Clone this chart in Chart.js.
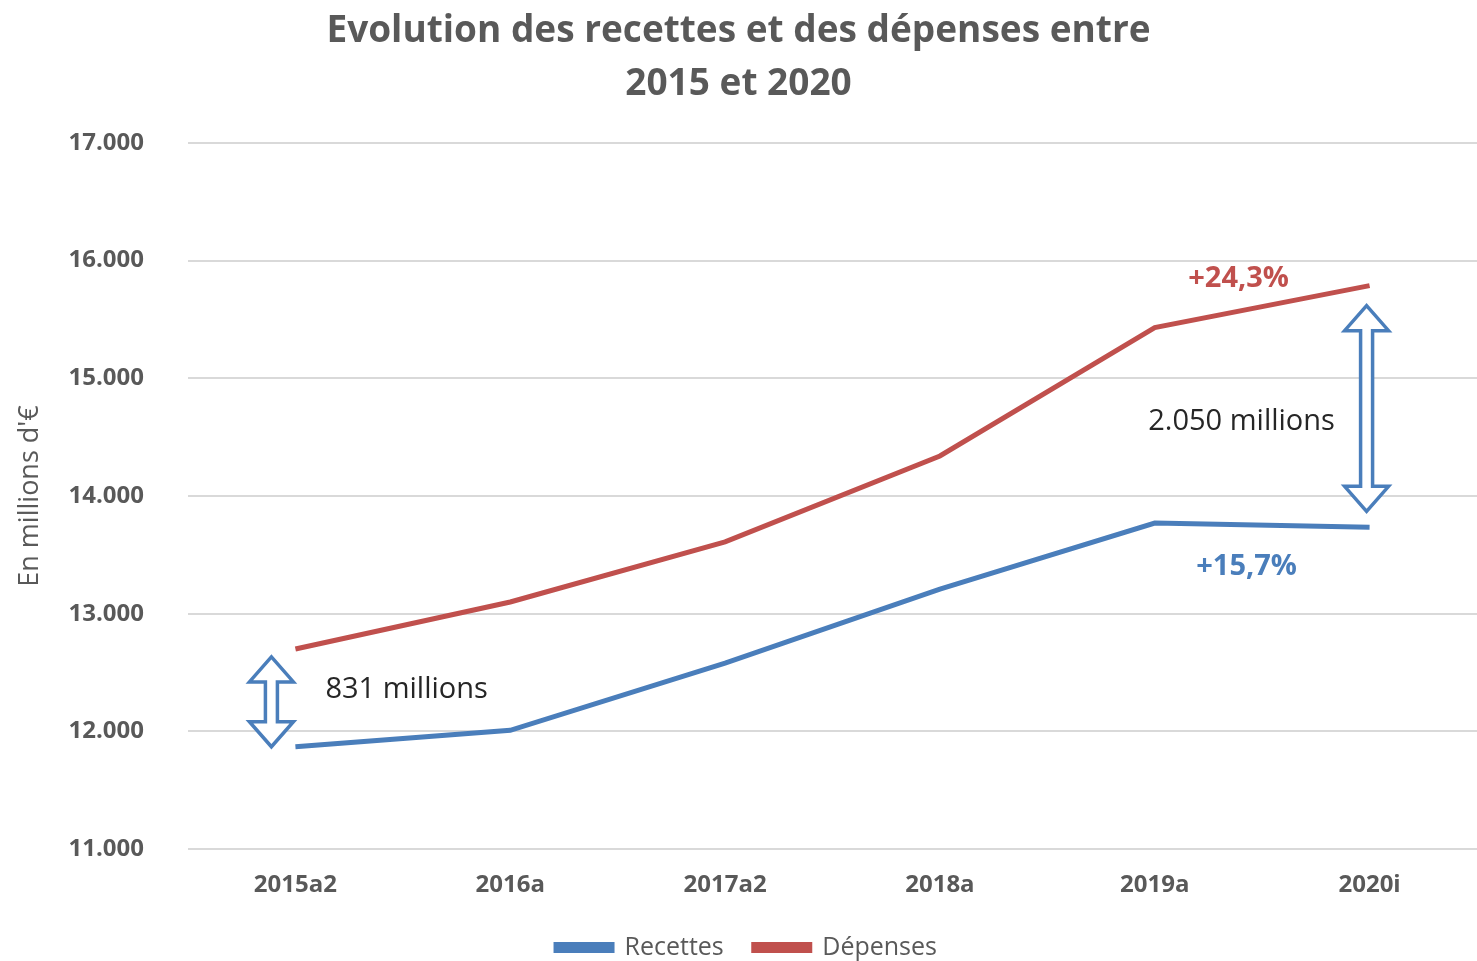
<!DOCTYPE html>
<html>
<head>
<meta charset="utf-8">
<script src="https://cdn.jsdelivr.net/npm/chart.js@4"></script>
<style>
  body{margin:0;background:#fff}
  #wrap{width:1477px;height:961px;position:relative}
</style>
</head>
<body>
<div id="wrap"><canvas id="graph"></canvas></div>
<script>
const years = ['2015a2','2016a','2017a2','2018a','2019a','2020i']
const recettes = [11870, 12010, 12580, 13210, 13770, 13734]
const depenses = [12701, 13100, 13610, 14340, 15430, 15787]
const titleLines = ['Evolution des recettes et des dépenses entre','2015 et 2020']
const gapStart = '831 millions'
const gapEnd = '2.050 millions'
const growthDep = '+24,3%'
const growthRec = '+15,7%'

const blue = '#4a7ebb'
const red = '#c0504d'
const gray = '#595959'
const font = "'Open Sans', 'Noto Sans', sans-serif"

function arrow(ctx, x, y1, y2){
    const hw = 22, hl = 25, sw = 6
    ctx.beginPath()
    ctx.moveTo(x, y1)
    ctx.lineTo(x+hw, y1+hl)
    ctx.lineTo(x+sw, y1+hl)
    ctx.lineTo(x+sw, y2-hl)
    ctx.lineTo(x+hw, y2-hl)
    ctx.lineTo(x, y2)
    ctx.lineTo(x-hw, y2-hl)
    ctx.lineTo(x-sw, y2-hl)
    ctx.lineTo(x-sw, y1+hl)
    ctx.lineTo(x-hw, y1+hl)
    ctx.closePath()
    ctx.fillStyle = '#fff'
    ctx.fill()
    ctx.lineWidth = 3.5
    ctx.strokeStyle = blue
    ctx.stroke()
}

const notes = {
    id: 'notes',
    afterLayout(chart){
        // nudge the legend down and a bit right, like the original
        chart.legend.top += 9
        chart.legend.bottom += 9
        chart.legend.left += 8
        chart.legend.right += 8
    },
    afterDatasetsDraw(chart){
        const ctx = chart.ctx, xs = chart.scales.x, ys = chart.scales.y
        const last = years.length-1
        ctx.save()
        arrow(ctx, xs.getPixelForValue(0)-24, ys.getPixelForValue(depenses[0])+8, ys.getPixelForValue(recettes[0]))
        arrow(ctx, xs.getPixelForValue(last)-3, ys.getPixelForValue(depenses[last])+20, ys.getPixelForValue(recettes[last])-16)
        ctx.textBaseline = 'middle'
        ctx.font = `29px ${font}`
        ctx.fillStyle = '#262626'
        ctx.textAlign = 'left'
        ctx.fillText(gapStart, xs.getPixelForValue(0)+30, (ys.getPixelForValue(depenses[0])+ys.getPixelForValue(recettes[0]))/2-8)
        ctx.textAlign = 'center'
        ctx.fillText(gapEnd, xs.getPixelForValue(last)-128, (ys.getPixelForValue(depenses[last])+ys.getPixelForValue(recettes[last]))/2+15)
        ctx.font = `bold 29px ${font}`
        ctx.fillStyle = red
        ctx.fillText(growthDep, xs.getPixelForValue(last)-131, ys.getPixelForValue(depenses[last])-7)
        ctx.fillStyle = blue
        ctx.fillText(growthRec, xs.getPixelForValue(last)-123, ys.getPixelForValue(recettes[last])+39)
        ctx.restore()
    }
}

new Chart('graph', {
    type: 'line',
    data: {
        labels: years,
        datasets: [
            {label:'Recettes', data:recettes, borderColor:blue, backgroundColor:blue, borderWidth:5, pointRadius:0, tension:0, fill:false},
            {label:'Dépenses', data:depenses, borderColor:red, backgroundColor:red, borderWidth:5, pointRadius:0, tension:0, fill:false}
        ]
    },
    options: {
        responsive: true,
        maintainAspectRatio: false,
        animation: false,
        plugins: {
            legend: {
                position: 'bottom',
                labels: {
                    boxWidth: 56, boxHeight: 6, padding: 4, color: gray,
                    font: {family: font, size: 25},
                    generateLabels(chart){
                        const items = Chart.defaults.plugins.legend.labels.generateLabels(chart)
                        items[0].text = items[0].text + '    '
                        return items
                    }
                }
            },
            title: {
                display: true,
                text: titleLines,
                color: gray,
                font: {family: font, size: 37, weight: 'bold', lineHeight: 1.43},
                padding: {top: 5, bottom: 32}
            },
            tooltip: {enabled: false}
        },
        scales: {
            x: {
                offset: true,
                grid: {display: false, drawTicks: false},
                border: {display: false},
                ticks: {color: gray, padding: 22, font: {family: font, size: 24, weight: 'bold'}}
            },
            y: {
                min: 11000, max: 17000,
                afterFit(s){ s.width = 188 },
                grid: {color: '#d9d9d9', lineWidth: 2, drawTicks: false},
                border: {display: false},
                title: {display: true, text: "En millions d'€", color: gray, font: {family: font, size: 27}, padding: {top: 14, bottom: 4}},
                ticks: {
                    stepSize: 1000, color: gray, padding: 44,
                    font: {family: font, size: 24, weight: 'bold'},
                    callback: v => (v/1000).toFixed(3)
                }
            }
        }
    },
    plugins: [notes]
})
</script>
</body>
</html>
